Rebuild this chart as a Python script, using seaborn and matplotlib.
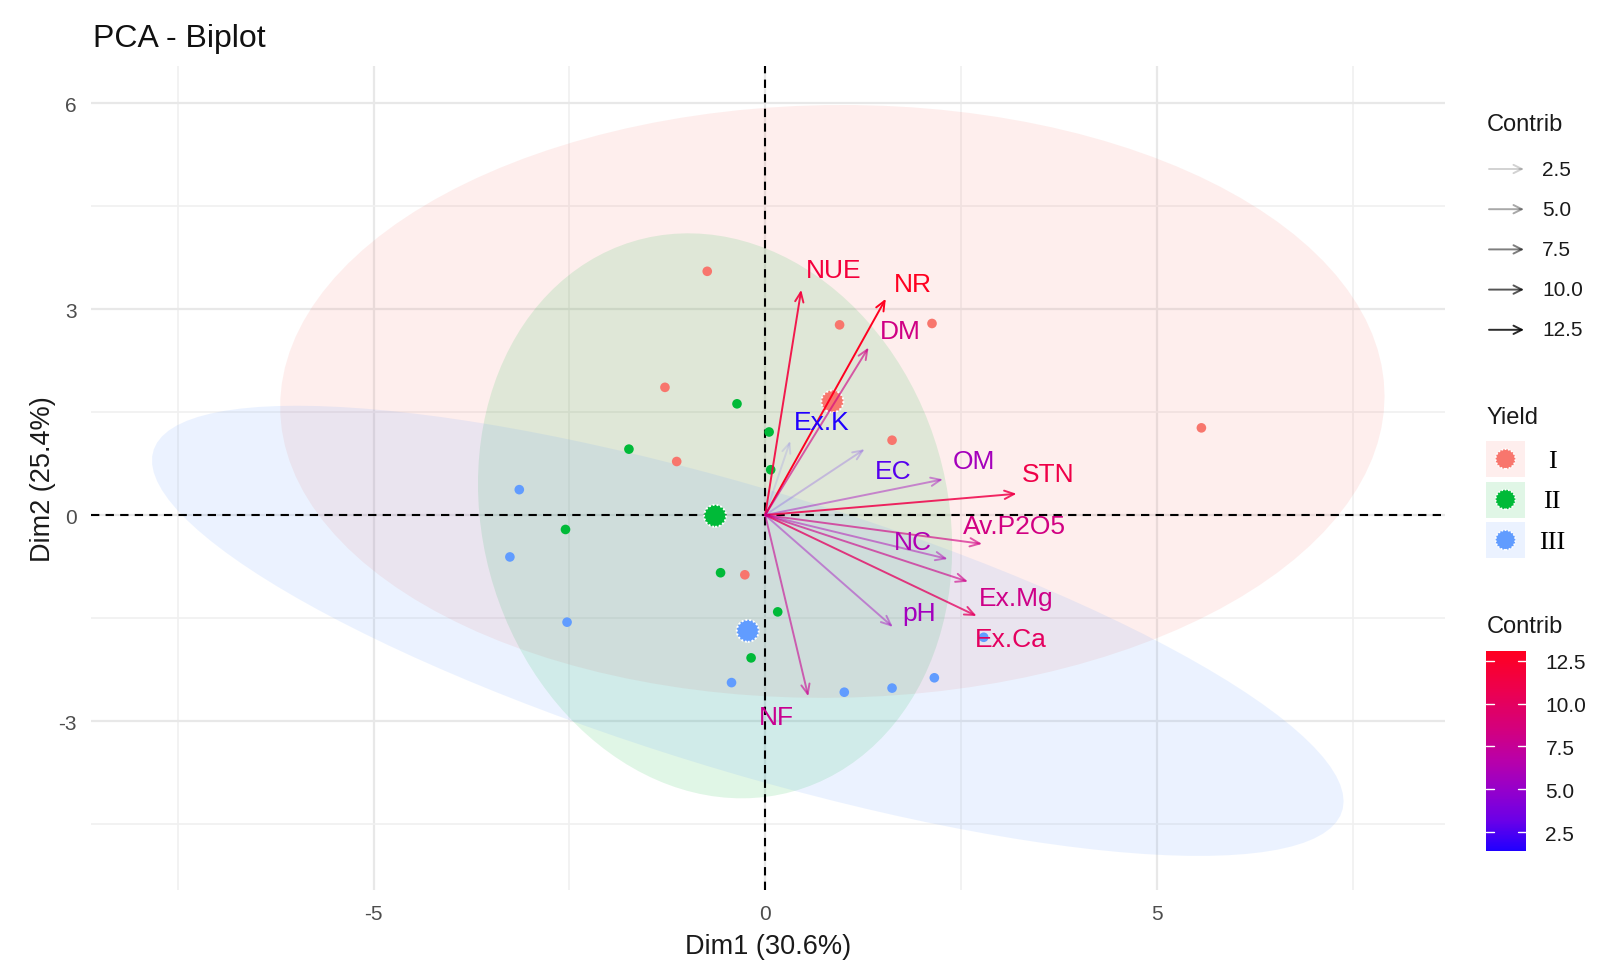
import numpy as np
import pandas as pd
import matplotlib
matplotlib.use("Agg")
import matplotlib.pyplot as plt
import seaborn as sns
from matplotlib.colors import LinearSegmentedColormap, Normalize
from matplotlib.cm import ScalarMappable

# individuals (PC scores) by yield group
yield_group = ["I"] * 8 + ["II"] * 8 + ["III"] * 8
dim1 = [-0.74, 0.95, 2.13, -1.28, -1.13, 1.62, 5.57, -0.26,
        -0.36, 0.05, 0.07, -1.74, -2.55, -0.57, 0.16, -0.18,
        -3.14, -3.26, -2.53, -0.43, 1.01, 1.62, 2.16, 2.79]
dim2 = [3.55, 2.77, 2.79, 1.86, 0.78, 1.09, 1.27, -0.87,
        1.62, 1.21, 0.66, 0.96, -0.21, -0.84, -1.41, -2.08,
        0.37, -0.61, -1.56, -2.44, -2.58, -2.52, -2.37, -1.78]

# variables (arrows)
var_names = ["NUE", "NR", "DM", "Ex.K", "EC", "OM", "STN",
             "Av.P2O5", "NC", "Ex.Mg", "Ex.Ca", "pH", "NF"]
var_dim1 = [0.46, 1.54, 1.32, 0.32, 1.27, 2.27, 3.21, 2.77, 2.33, 2.59, 2.70, 1.63, 0.55]
var_dim2 = [3.28, 3.15, 2.44, 1.08, 0.96, 0.52, 0.31, -0.42, -0.64, -0.97, -1.47, -1.63, -2.64]
var_contrib = [11.7, 13.08, 8.2, 1.39, 2.7, 5.7, 11.1, 8.3, 6.2, 8.1, 10.0, 5.6, 7.7]
label_x = [0.88, 1.89, 1.72, 0.72, 1.64, 2.66, 3.61, 3.18, 1.89, 3.21, 3.14, 1.97, 0.14]
label_y = [3.57, 3.37, 2.68, 1.36, 0.64, 0.78, 0.60, -0.16, -0.39, -1.21, -1.81, -1.42, -2.94]

groups = ["I", "II", "III"]
group_colors = {"I": "#F8766D", "II": "#00BA38", "III": "#619CFF"}
legend_values = [2.5, 5.0, 7.5, 10.0, 12.5]

ind = pd.DataFrame({"Dim1": dim1, "Dim2": dim2, "Yield": yield_group})
means = ind.groupby("Yield", sort=False)[["Dim1", "Dim2"]].mean().reset_index()

sns.set_style("white")
plt.rcParams["font.family"] = ["Liberation Sans", "DejaVu Sans"]
plt.rcParams["axes.unicode_minus"] = False

cmap = LinearSegmentedColormap.from_list(
    "contrib", [(0.0, "#2000FF"), (0.15, "#6A00E8"), (0.3, "#9400CC"),
                (0.45, "#B800AA"), (0.6, "#D20080"), (0.8, "#EC0050"),
                (1.0, "#FF0020")])
norm = Normalize(vmin=min(var_contrib), vmax=max(var_contrib))


def alpha_of(c):
    return 0.1 + 0.9 * (c - norm.vmin) / (norm.vmax - norm.vmin)


def norm_ellipse(x, y, level=0.95, segments=120):
    # same as ggplot2 stat_ellipse(type = "norm")
    x = np.asarray(x)
    y = np.asarray(y)
    d = len(x) - 1
    fq = d / 2 * ((1 - level) ** (-2 / d) - 1)
    radius = np.sqrt(2 * fq)
    t = np.linspace(0, 2 * np.pi, segments)
    circle = np.column_stack([np.cos(t), np.sin(t)])
    chol = np.linalg.cholesky(np.cov(x, y))
    return np.array([x.mean(), y.mean()]) + radius * circle @ chol.T


fig = plt.figure(figsize=(16.15, 9.78), dpi=100)
ax = fig.add_axes([0.0563, 0.089, 0.8384, 0.8425])

# ellipses
for g in groups:
    sub = ind[ind["Yield"] == g]
    pts = norm_ellipse(sub["Dim1"], sub["Dim2"])
    ax.fill(pts[:, 0], pts[:, 1], color=group_colors[g], alpha=0.12, lw=0, zorder=1)

# points
sns.scatterplot(data=ind, x="Dim1", y="Dim2", hue="Yield", palette=group_colors,
                s=48, linewidth=0, legend=False, ax=ax, zorder=3)
sns.scatterplot(data=means, x="Dim1", y="Dim2", hue="Yield", palette=group_colors,
                s=250, edgecolor="white", linewidth=1.4, linestyle=(0, (1, 1)),
                legend=False, ax=ax, zorder=4)

# axes at zero
ax.axhline(0, color="black", lw=1.5, ls=(0, (4, 3)), zorder=2)
ax.axvline(0, color="black", lw=1.5, ls=(0, (4, 3)), zorder=2)

# variable arrows and labels
for name, vx, vy, c, lx, ly in zip(var_names, var_dim1, var_dim2, var_contrib, label_x, label_y):
    col = cmap(norm(c))
    ax.annotate("", xy=(vx, vy), xytext=(0, 0),
                arrowprops=dict(arrowstyle="->,head_length=0.7,head_width=0.3",
                                color=col, alpha=alpha_of(c), lw=1.4,
                                shrinkA=0, shrinkB=0), zorder=5)
    ax.text(lx, ly, name, color=col, fontsize=19, ha="center", va="center", zorder=6)

ax.set_xlim(-8.61, 8.68)
ax.set_ylim(-5.46, 6.54)
ax.set_xticks([-5, 0, 5])
ax.set_xticks([-7.5, -2.5, 2.5, 7.5], minor=True)
ax.set_yticks([-3, 0, 3, 6])
ax.set_yticks([-4.5, -1.5, 1.5, 4.5], minor=True)
ax.grid(which="major", color="#E8E8E8", lw=1.6)
ax.grid(which="minor", color="#F0F0F0", lw=1.2)
ax.set_axisbelow(True)
for s in ax.spines.values():
    s.set_visible(False)
ax.tick_params(which="major", length=4, width=1, color="#333333",
               labelsize=15, labelcolor="#4D4D4D", pad=6)
ax.tick_params(which="minor", length=0)
ax.set_xlabel("Dim1 (30.6%)", fontsize=19.5, labelpad=7, color="#1A1A1A")
ax.set_ylabel("Dim2 (25.4%)", fontsize=19.5, labelpad=2, color="#1A1A1A")

fig.text(93 / 1615, 1 - 39 / 978, "PCA - Biplot", fontsize=23, va="center", color="#111111")

# legends drawn in pixel coordinates
lax = fig.add_axes([0, 0, 1, 1], facecolor="none")
lax.set_xlim(0, 1615)
lax.set_ylim(978, 0)
lax.axis("off")

lax.text(1487, 125, "Contrib", fontsize=17, va="center", color="#1A1A1A")
for i, v in enumerate(legend_values):
    yy = 170 + i * 40.2
    lax.annotate("", xy=(1524, yy), xytext=(1489, yy),
                 arrowprops=dict(arrowstyle="->,head_length=0.6,head_width=0.3",
                                 color="black", alpha=alpha_of(v) * 0.85 + 0.02, lw=1.4,
                                 shrinkA=0, shrinkB=0))
    lax.text(1542, yy, f"{v:.1f}", fontsize=15, va="center", color="#1A1A1A")

lax.text(1487, 418, "Yield", fontsize=17, va="center", color="#1A1A1A")
roman = {"I": "I", "II": "II", "III": "III"}
for i, g in enumerate(groups):
    top = 442 + i * 40.5
    lax.fill([1486, 1525, 1525, 1486], [top, top, top + 36, top + 36],
             color=group_colors[g], alpha=0.12, lw=0)
    lax.scatter([1505.5], [top + 18], s=200, color=group_colors[g],
                edgecolor="white", linewidth=1.2, linestyle=(0, (1, 1)))
    lax.text(1552, top + 20, roman[g], fontsize=19, ha="center", va="center",
             family=["Liberation Serif", "DejaVu Serif"], color="black")

lax.text(1487, 627, "Contrib", fontsize=17, va="center", color="#1A1A1A")
cax = fig.add_axes([1486 / 1615, 1 - 852 / 978, 40 / 1615, 200 / 978])
cb = fig.colorbar(ScalarMappable(norm=norm, cmap=cmap), cax=cax)
cb.outline.set_visible(False)
cb.set_ticks(legend_values)
cb.set_ticklabels([f"{v:.1f}" for v in legend_values])
cb.ax.tick_params(length=0, labelsize=15, labelcolor="#1A1A1A", pad=14)
for v in legend_values:
    cb.ax.axhline(v, xmin=0, xmax=0.2, color="white", lw=1)
    cb.ax.axhline(v, xmin=0.8, xmax=1, color="white", lw=1)

fig.savefig("out.png", dpi=100)
